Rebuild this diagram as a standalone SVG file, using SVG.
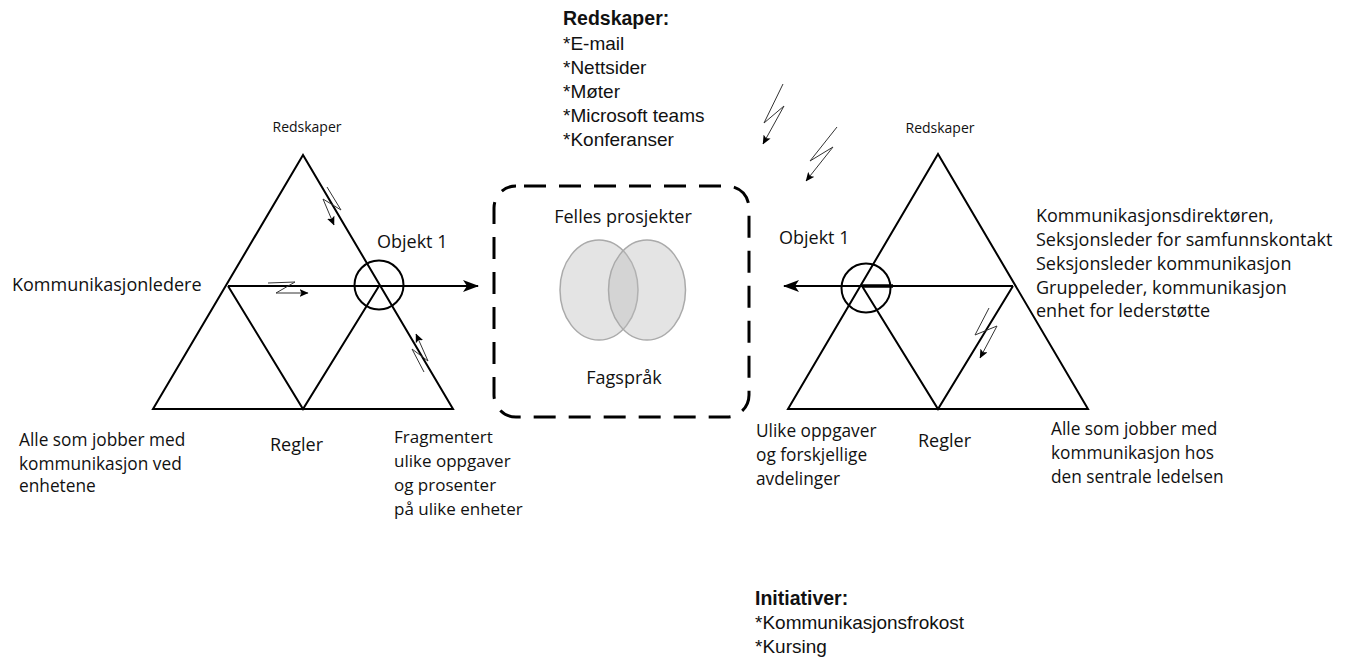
<svg xmlns="http://www.w3.org/2000/svg" width="1352" height="661" viewBox="0 0 1352 661">
  <style>
    .t { font-family: "Open Sans", "Liberation Sans", sans-serif; font-size: 18px; fill: #111; }
    .lbl { font-size: 17.3px; }
    .obj { font-size: 17px; }
    .sm { font-family: "Open Sans", "Liberation Sans", sans-serif; font-size: 14px; fill: #111; }
    .lst { font-family: "Liberation Sans", Arial, sans-serif; font-size: 19px; fill: #111; }
    .lst-b { font-weight: bold; font-size: 19.5px; }
    .edge { fill: none; stroke: #000; stroke-width: 2; stroke-linejoin: miter; }
    .main { fill: none; stroke: #000; stroke-width: 2; }
    .bolt { fill: none; stroke: #333; stroke-width: 1; stroke-linejoin: miter; }
  </style>
  <defs>
    <marker id="bigArrow" markerWidth="16" markerHeight="12" refX="15" refY="6" orient="auto" markerUnits="userSpaceOnUse">
      <path d="M0,0 L16,6 L0,12 L4,6 Z" fill="#000"/>
    </marker>
    <marker id="smallArrow" markerWidth="9" markerHeight="8" refX="8.5" refY="4" orient="auto" markerUnits="userSpaceOnUse">
      <path d="M0,0 L9,4 L0,8 L2,4 Z" fill="#000"/>
    </marker>
  </defs>

  <!-- Tools list -->
  <g id="tools-list">
    <text class="lst lst-b" x="563" y="25">Redskaper:</text>
    <text class="lst" x="563" y="49.5">*E-mail</text>
    <text class="lst" x="563" y="73.5">*Nettsider</text>
    <text class="lst" x="563" y="97.5">*Møter</text>
    <text class="lst" x="563" y="121.5">*Microsoft teams</text>
    <text class="lst" x="563" y="146">*Konferanser</text>
  </g>

  <!-- Initiatives list -->
  <g id="initiatives-list">
    <text class="lst lst-b" x="755" y="605">Initiativer:</text>
    <text class="lst" x="755" y="629">*Kommunikasjonsfrokost</text>
    <text class="lst" x="755" y="653">*Kursing</text>
  </g>

  <!-- Left activity triangle -->
  <g id="left-triangle">
    <path class="edge" d="M303,155 L153,409 L453,409 Z"/>
    <path class="edge" d="M228,286 L303,409 L379,286"/>
    <circle cx="379" cy="285" r="24.5" class="main"/>
    <text class="sm" x="307" y="132" text-anchor="middle">Redskaper</text>
    <text class="t" x="377" y="248">Objekt 1</text>
    <text class="t" x="12" y="291">Kommunikasjonledere</text>
    <text class="t lbl" x="19" y="446">Alle som jobber med</text>
    <text class="t lbl" x="19" y="469.5">kommunikasjon ved</text>
    <text class="t lbl" x="19" y="492">enhetene</text>
    <text class="t" x="270" y="451">Regler</text>
    <text class="t obj" x="394" y="443">Fragmentert</text>
    <text class="t obj" x="394" y="467">ulike oppgaver</text>
    <text class="t obj" x="394" y="491">og prosenter</text>
    <text class="t obj" x="394" y="515">på ulike enheter</text>
  </g>

  <!-- Shared object area -->
  <g id="shared-object">
    <rect x="494" y="186" width="255" height="231" rx="22" ry="22" fill="none" stroke="#000" stroke-width="3" stroke-dasharray="22 13" stroke-dashoffset="-8"/>
    <ellipse cx="599" cy="290" rx="39" ry="50" fill="#bbb" fill-opacity="0.4" stroke="#aaa" stroke-width="1.5"/>
    <ellipse cx="647" cy="290" rx="38.5" ry="50" fill="#bbb" fill-opacity="0.4" stroke="#aaa" stroke-width="1.5"/>
    <text class="t" x="623" y="223" text-anchor="middle">Felles prosjekter</text>
    <text class="t" x="624" y="384" text-anchor="middle">Fagspråk</text>
  </g>

  <!-- Right activity triangle -->
  <g id="right-triangle">
    <path class="edge" d="M938,154 L788,409 L1088,409 Z"/>
    <path class="edge" d="M862,286 L938,409 L1013,286"/>
    <circle cx="866" cy="288" r="24.5" class="main"/>
    <text class="sm" x="940" y="133" text-anchor="middle">Redskaper</text>
    <text class="t" x="779" y="244">Objekt 1</text>
    <text class="t" x="1036" y="222">Kommunikasjonsdirektøren,</text>
    <text class="t" x="1036" y="246">Seksjonsleder for samfunnskontakt</text>
    <text class="t" x="1036" y="270">Seksjonsleder kommunikasjon</text>
    <text class="t" x="1036" y="294">Gruppeleder, kommunikasjon</text>
    <text class="t" x="1036" y="317">enhet for lederstøtte</text>
    <text class="t lbl" x="756" y="437">Ulike oppgaver</text>
    <text class="t lbl" x="756" y="461">og forskjellige</text>
    <text class="t lbl" x="756" y="485">avdelinger</text>
    <text class="t" x="918" y="447">Regler</text>
    <text class="t lbl" x="1051" y="435">Alle som jobber med</text>
    <text class="t lbl" x="1051" y="459">kommunikasjon hos</text>
    <text class="t lbl" x="1051" y="483">den sentrale ledelsen</text>
  </g>

  <!-- Connectors: object arrows and communication bolts -->
  <g id="connectors">
    <line class="main" x1="228" y1="286" x2="478" y2="286" marker-end="url(#bigArrow)"/>
    <line class="main" x1="1013" y1="286" x2="784" y2="286" marker-end="url(#bigArrow)"/>
    <line x1="862" y1="286" x2="893" y2="286" stroke="#000" stroke-width="3.5"/>
    <path class="bolt" d="M327,187 L341,210 L323,199 L334,225" marker-end="url(#smallArrow)"/>
    <path class="bolt" d="M268,283 L295,282 L276,293 L308,293" marker-end="url(#smallArrow)"/>
    <path class="bolt" d="M424,372 L412,349 L428,361 L416,334" marker-end="url(#smallArrow)"/>
    <path class="bolt" d="M989,308 L975,335 L997,326 L980,358" marker-end="url(#smallArrow)"/>
    <path class="bolt" d="M783,84 L764,123 L784,106 L763,144" marker-end="url(#smallArrow)"/>
    <path class="bolt" d="M837,127 L810,161 L833,147 L806,181" marker-end="url(#smallArrow)"/>
  </g>
</svg>
